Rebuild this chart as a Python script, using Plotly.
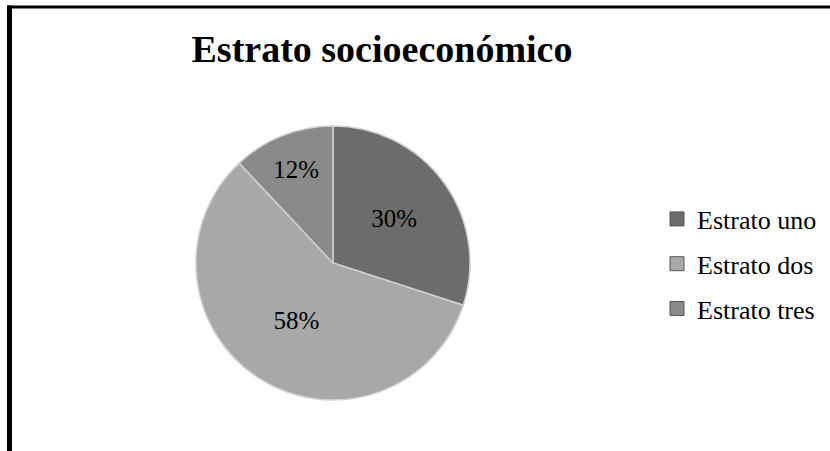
import plotly.graph_objects as go

categories = ["Estrato uno", "Estrato dos", "Estrato tres"]
values = [30, 58, 12]
slice_colors = ["#6c6c6c", "#a8a8a8", "#8a8a8a"]
title_text = "Estrato socioeconómico"

W, H = 830, 451

fig = go.Figure()
fig.add_trace(go.Pie(
    labels=categories,
    values=values,
    sort=False,
    direction="clockwise",
    rotation=0,
    texttemplate="%{percent:.0%}",
    textposition="inside",
    insidetextorientation="horizontal",
    textfont=dict(family="Liberation Serif", size=25, color="#000000"),
    marker=dict(colors=slice_colors, line=dict(color="#d0d0d0", width=1.5)),
    domain=dict(x=[196 / W, 470 / W], y=[(H - 400) / H, (H - 126) / H]),
    hoverinfo="label+percent",
    showlegend=False,
))

# legend entries (one per category, same colours as the slices)
for name, col in zip(categories, slice_colors):
    fig.add_trace(go.Scatter(
        x=[None], y=[None], mode="markers", name=name, legendgroup=name,
        marker=dict(symbol="square", size=14, color=col,
                    line=dict(color="#555555", width=1)),
        showlegend=True, hoverinfo="skip",
    ))

fig.update_layout(
    width=W, height=H,
    margin=dict(l=0, r=0, t=0, b=0),
    paper_bgcolor="#ffffff",
    plot_bgcolor="rgba(0,0,0,0)",
    xaxis=dict(visible=False),
    yaxis=dict(visible=False),
    title=dict(text="<b>" + title_text + "</b>", x=382 / W, xanchor="center",
               y=1 - 49 / H, yanchor="middle",
               font=dict(family="Liberation Serif", size=38, color="#000000")),
    legend=dict(x=657 / W, xanchor="left", y=1 - 264 / H, yanchor="middle",
                font=dict(family="Liberation Serif", size=26, color="#000000"),
                bgcolor="rgba(0,0,0,0)", tracegroupgap=8, itemclick=False),
    showlegend=True,
    shapes=[
        dict(type="line", xref="paper", yref="paper", x0=7 / W, x1=1, y0=1 - 7 / H, y1=1 - 7 / H,
             line=dict(color="#000000", width=3)),
        dict(type="line", xref="paper", yref="paper", x0=9.5 / W, x1=9.5 / W, y0=0, y1=1 - 5.5 / H,
             line=dict(color="#000000", width=5)),
    ],
)

fig.write_html("out.html", config={"displayModeBar": False},
               post_script="document.body.style.margin='0px';")
